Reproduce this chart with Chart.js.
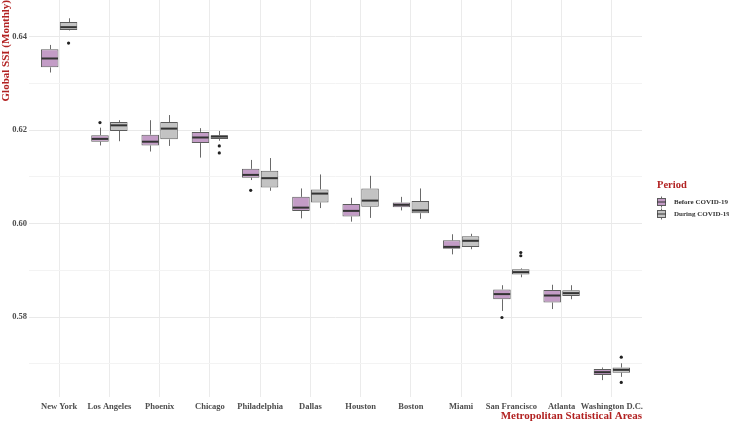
<!DOCTYPE html>
<html><head><meta charset="utf-8">
<script src="https://cdn.jsdelivr.net/npm/chart.js@4/dist/chart.umd.min.js"></script>
<style>html,body{margin:0;padding:0;background:#fff;}#wrap{width:729px;height:423px;}</style>
</head><body><div id="wrap"><canvas id="c" width="729" height="423"></canvas></div>
<script>
const categories = ["New York","Los Angeles","Phoenix","Chicago","Philadelphia","Dallas","Houston","Boston","Miami","San Francisco","Atlanta","Washington D.C."];
const yTicks = [0.57,0.58,0.59,0.60,0.61,0.62,0.63,0.64];
// Before COVID-19
const beforeLow  = [0.6323,0.6167,0.6154,0.6141,0.6093,0.6011,0.6004,0.6028,0.5934,0.5813,0.5817,0.5665];
const beforeQ1   = [0.6334,0.6175,0.6167,0.6172,0.6098,0.6027,0.6015,0.6035,0.5946,0.5838,0.5831,0.5676];
const beforeMed  = [0.6353,0.6181,0.6175,0.6184,0.6104,0.6034,0.6027,0.6040,0.5950,0.5849,0.5846,0.5682];
const beforeQ3   = [0.6373,0.6189,0.6190,0.6196,0.6117,0.6057,0.6042,0.6045,0.5964,0.5859,0.5858,0.5689];
const beforeHigh = [0.6382,0.6205,0.6221,0.6204,0.6136,0.6075,0.6055,0.6057,0.5977,0.5868,0.5869,0.5692];
const beforeOut  = [[],[0.6216],[],[],[0.6071],[],[],[],[],[0.5799],[],[]];
// During COVID-19
const duringLow  = [0.6413,0.6176,0.6166,0.6177,0.6070,0.6033,0.6012,0.6010,0.5945,0.5885,0.5838,0.5672];
const duringQ1   = [0.6414,0.6198,0.6180,0.6181,0.6077,0.6045,0.6036,0.6022,0.5950,0.5891,0.5845,0.5681];
const duringMed  = [0.6420,0.6210,0.6203,0.6186,0.6097,0.6064,0.6049,0.6028,0.5963,0.5896,0.5851,0.5687];
const duringQ3   = [0.6431,0.6217,0.6217,0.6189,0.6113,0.6073,0.6075,0.6048,0.5973,0.5902,0.5857,0.5692];
const duringHigh = [0.6439,0.6221,0.6232,0.6198,0.6140,0.6105,0.6102,0.6075,0.5978,0.5904,0.5868,0.5701];
const duringOut  = [[0.6386],[],[],[0.6166,0.6151],[],[],[],[],[],[0.5938,0.5931],[],[0.5714,0.5660]];

const FONT = "'Liberation Serif','Times New Roman',serif";
const RED = '#B22222';
const FILL_B = '#C39CC6', FILL_D = '#C3C3C3';
const EDGE = '#5c5c5c', MED = '#333333', WHISK = '#6a6a6a';

const stats = [
  {low: beforeLow, med: beforeMed, high: beforeHigh, out: beforeOut},
  {low: duringLow, med: duringMed, high: duringHigh, out: duringOut}
];

const boxPlugin = {
  id: 'boxExtras',
  afterLayout(chart) {
    const xs = chart.scales.x;
    // ggplot-style discrete expansion of 0.6 on each side
    xs._startValue = -0.6;
    xs._valueRange = categories.length - 1 + 1.2;
  },
  beforeDatasetsDraw(chart) {
    const ctx = chart.ctx, ys = chart.scales.y;
    ctx.save();
    ctx.strokeStyle = WHISK; ctx.lineWidth = 1;
    stats.forEach((s, d) => {
      const meta = chart.getDatasetMeta(d);
      meta.data.forEach((bar, i) => {
        const x = Math.round(bar.x) + 0.5;
        const q = chart.data.datasets[d].data[i];
        ctx.beginPath();
        ctx.moveTo(x, ys.getPixelForValue(s.high[i]));
        ctx.lineTo(x, ys.getPixelForValue(q[1]));
        ctx.moveTo(x, ys.getPixelForValue(q[0]));
        ctx.lineTo(x, ys.getPixelForValue(s.low[i]));
        ctx.stroke();
      });
    });
    ctx.restore();
  },
  afterDatasetsDraw(chart) {
    const ctx = chart.ctx, ys = chart.scales.y;
    ctx.save();
    stats.forEach((s, d) => {
      const meta = chart.getDatasetMeta(d);
      meta.data.forEach((bar, i) => {
        const half = bar.width / 2;
        const ym = ys.getPixelForValue(s.med[i]);
        ctx.strokeStyle = MED; ctx.lineWidth = 2;
        ctx.beginPath(); ctx.moveTo(bar.x - half + 0.5, ym); ctx.lineTo(bar.x + half - 0.5, ym); ctx.stroke();
        ctx.fillStyle = '#222';
        s.out[i].forEach(v => {
          ctx.beginPath(); ctx.arc(bar.x, ys.getPixelForValue(v), 1.6, 0, Math.PI * 2); ctx.fill();
        });
      });
    });
    ctx.restore();
  },
  afterDraw(chart) {
    const ctx = chart.ctx;
    ctx.save();
    ctx.textBaseline = 'middle'; ctx.textAlign = 'left';
    ctx.fillStyle = RED;
    ctx.font = "bold 10.5px " + FONT;
    ctx.fillText('Period', 657, 185);
    const items = [['Before COVID-19', FILL_B, 202], ['During COVID-19', FILL_D, 214]];
    items.forEach(([lab, fill, y]) => {
      ctx.strokeStyle = WHISK; ctx.lineWidth = 1;
      ctx.beginPath(); ctx.moveTo(661.5, y - 5.5); ctx.lineTo(661.5, y + 5.5); ctx.stroke();
      ctx.fillStyle = fill; ctx.fillRect(657, y - 3.5, 9, 7);
      ctx.strokeStyle = EDGE; ctx.strokeRect(657.5, y - 3.5, 8, 7);
      ctx.strokeStyle = MED; ctx.beginPath(); ctx.moveTo(657, y); ctx.lineTo(666, y); ctx.stroke();
      ctx.fillStyle = '#333';
      ctx.font = "bold 7px " + FONT;
      ctx.fillText(lab, 674, y);
    });
    ctx.restore();
  }
};

new Chart(document.getElementById('c'), {
  type: 'bar',
  data: {
    labels: categories,
    datasets: [
      {label: 'Before COVID-19', data: beforeQ1.map((v, i) => [v, beforeQ3[i]]), backgroundColor: FILL_B, borderColor: EDGE, borderWidth: 1, borderSkipped: false},
      {label: 'During COVID-19', data: duringQ1.map((v, i) => [v, duringQ3[i]]), backgroundColor: FILL_D, borderColor: EDGE, borderWidth: 1, borderSkipped: false}
    ]
  },
  options: {
    responsive: false,
    animation: false,
    devicePixelRatio: 1,
    categoryPercentage: 0.75,
    barPercentage: 0.93,
    layout: {padding: {top: 0, right: 87, bottom: 0, left: 0}},
    plugins: {legend: {display: false}, tooltip: {enabled: false}},
    scales: {
      x: {
        offset: true,
        grid: {color: '#ebebeb', lineWidth: 1, drawTicks: false, offset: false},
        border: {display: false},
        ticks: {color: '#4d4d4d', font: {family: FONT, size: 8.5, weight: 'bold'}, padding: 5, maxRotation: 0, autoSkip: false},
        title: {display: true, text: 'Metropolitan Statistical Areas', align: 'end', color: RED, font: {family: FONT, size: 11, weight: 'bold'}, padding: {top: 0, bottom: 0}},
        afterFit(s) { s.height = 26; s.paddingLeft = 0; s.paddingRight = 0; }
      },
      y: {
        min: 0.56289, max: 0.64781,
        afterBuildTicks(s) { s.ticks = yTicks.map(v => ({value: v})); },
        grid: {
          color: c => (c.tick && Math.round(c.tick.value * 100) % 2 === 0) ? '#e9e9e9' : '#f3f3f3',
          lineWidth: 1, drawTicks: false
        },
        border: {display: false},
        ticks: {
          color: '#4d4d4d', font: {family: FONT, size: 8.5, weight: 'bold'}, padding: 2,
          callback: v => (Math.round(v * 100) % 2 === 0) ? v.toFixed(2) : ''
        },
        title: {display: true, text: 'Global SSI (Monthly)', align: 'end', color: RED, font: {family: FONT, size: 11, weight: 'bold'}, padding: {top: 0, bottom: 0}},
        afterFit(s) { s.width = 29; s.paddingTop = 0; s.paddingBottom = 0; }
      }
    }
  },
  plugins: [boxPlugin]
});
</script></body></html>
